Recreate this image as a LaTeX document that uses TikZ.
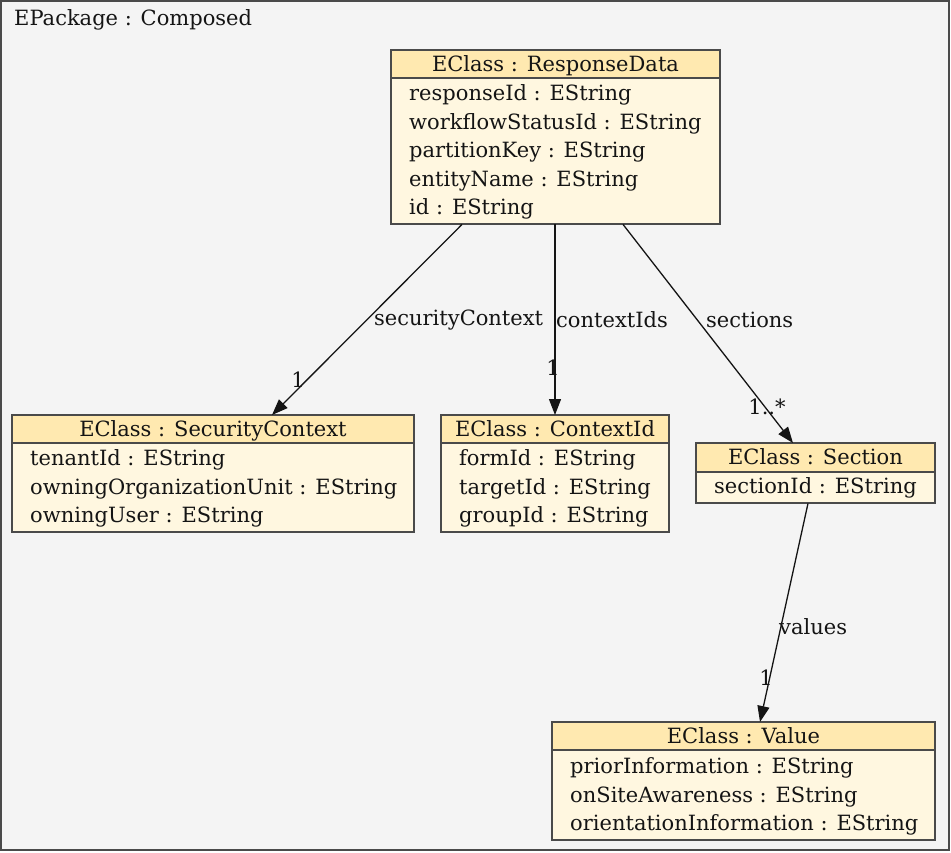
\documentclass[tikz,border=0pt]{standalone}
\usepackage{fontspec}
\setmainfont{DejaVu Serif}
\usetikzlibrary{calc,arrows.meta}
\definecolor{hdr}{HTML}{FFE9B0}
\definecolor{bdy}{HTML}{FFF7E0}
\definecolor{bg}{HTML}{F4F4F4}
\definecolor{frm}{HTML}{4A4A4A}
\definecolor{txt}{HTML}{141414}
\tikzset{
  x=1pt,y=-1pt,
  every node/.style={font=\fontsize{21}{25}\selectfont, text=txt, inner sep=0pt},
  clsbox/.style={draw=frm, line width=1.2pt, fill=bdy},
  hdrbox/.style={draw=frm, line width=1.2pt, fill=hdr},
  attr/.style={anchor=base west},
  ttl/.style={anchor=base},
  conn/.style={draw=txt, line width=1.3pt, -{Triangle[length=16pt,width=12pt]}},
  lbl/.style={anchor=west},
  mult/.style={anchor=center},
}
\begin{document}
\begin{tikzpicture}
\useasboundingbox (0,0) rectangle (951,852);
\draw[fill=bg, draw=frm, line width=1.3pt] (1,1) rectangle (949,850);
\node[anchor=base west] (pkg) at (14,25) {EPackage : Composed};

% ResponseData
\path[clsbox] (391,50) rectangle (720,224);
\path[hdrbox] (391,50) rectangle (720,78);
\node[minimum width=329pt, minimum height=174pt, anchor=north west] (rd) at (391,50) {};
\node[ttl] at (555.5,71) {EClass : ResponseData};
\node[attr] at (409,100) {responseId : EString};
\node[attr] at (409,129) {workflowStatusId : EString};
\node[attr] at (409,157) {partitionKey : EString};
\node[attr] at (409,186) {entityName : EString};
\node[attr] at (409,214) {id : EString};

% SecurityContext
\path[clsbox] (12,415) rectangle (414,532);
\path[hdrbox] (12,415) rectangle (414,443);
\node[minimum width=402pt, minimum height=117pt, anchor=north west] (sc) at (12,415) {};
\node[ttl] at (213,436) {EClass : SecurityContext};
\node[attr] at (30,465) {tenantId : EString};
\node[attr] at (30,494) {owningOrganizationUnit : EString};
\node[attr] at (30,522) {owningUser : EString};

% ContextId
\path[clsbox] (441,415) rectangle (669,532);
\path[hdrbox] (441,415) rectangle (669,443);
\node[minimum width=228pt, minimum height=117pt, anchor=north west] (ci) at (441,415) {};
\node[ttl] at (555,436) {EClass : ContextId};
\node[attr] at (459,465) {formId : EString};
\node[attr] at (459,494) {targetId : EString};
\node[attr] at (459,522) {groupId : EString};

% Section
\path[clsbox] (696,443) rectangle (935,503);
\path[hdrbox] (696,443) rectangle (935,472);
\node[minimum width=239pt, minimum height=60pt, anchor=north west] (sec) at (696,443) {};
\node[ttl] at (815.5,464) {EClass : Section};
\node[attr] at (714,493) {sectionId : EString};

% Value
\path[clsbox] (552,722) rectangle (935,840);
\path[hdrbox] (552,722) rectangle (935,750);
\node[minimum width=383pt, minimum height=118pt, anchor=north west] (val) at (552,722) {};
\node[ttl] at (743.5,743) {EClass : Value};
\node[attr] at (570,773) {priorInformation : EString};
\node[attr] at (570,802) {onSiteAwareness : EString};
\node[attr] at (570,830) {orientationInformation : EString};

% connectors
\draw[conn] ($(rd.south west)+(71,0)$) -- ($(sc.north west)+(260,0)$);
\draw[conn] ($(rd.south west)+(164,0)$) -- ($(ci.north west)+(114,0)$);
\draw[conn] ($(rd.south west)+(232,0)$) -- ($(sec.north west)+(97,0)$);
\draw[conn] ($(sec.south west)+(112,0)$) -- ($(val.north west)+(208,0)$);

% labels
\node[lbl] (l1) at (374,320) {securityContext};
\node[lbl] (l2) at (556,320) {contextIds};
\node[lbl] (l3) at (706,320) {sections};
\node[lbl] (l4) at (779,627) {values};
\node[mult] (m1) at (298,380) {1};
\node[mult] (m2) at (553,368) {1};
\node[mult] (m3) at (767,407) {1..*};
\node[mult] (m4) at (766,678) {1};
\end{tikzpicture}
\end{document}
